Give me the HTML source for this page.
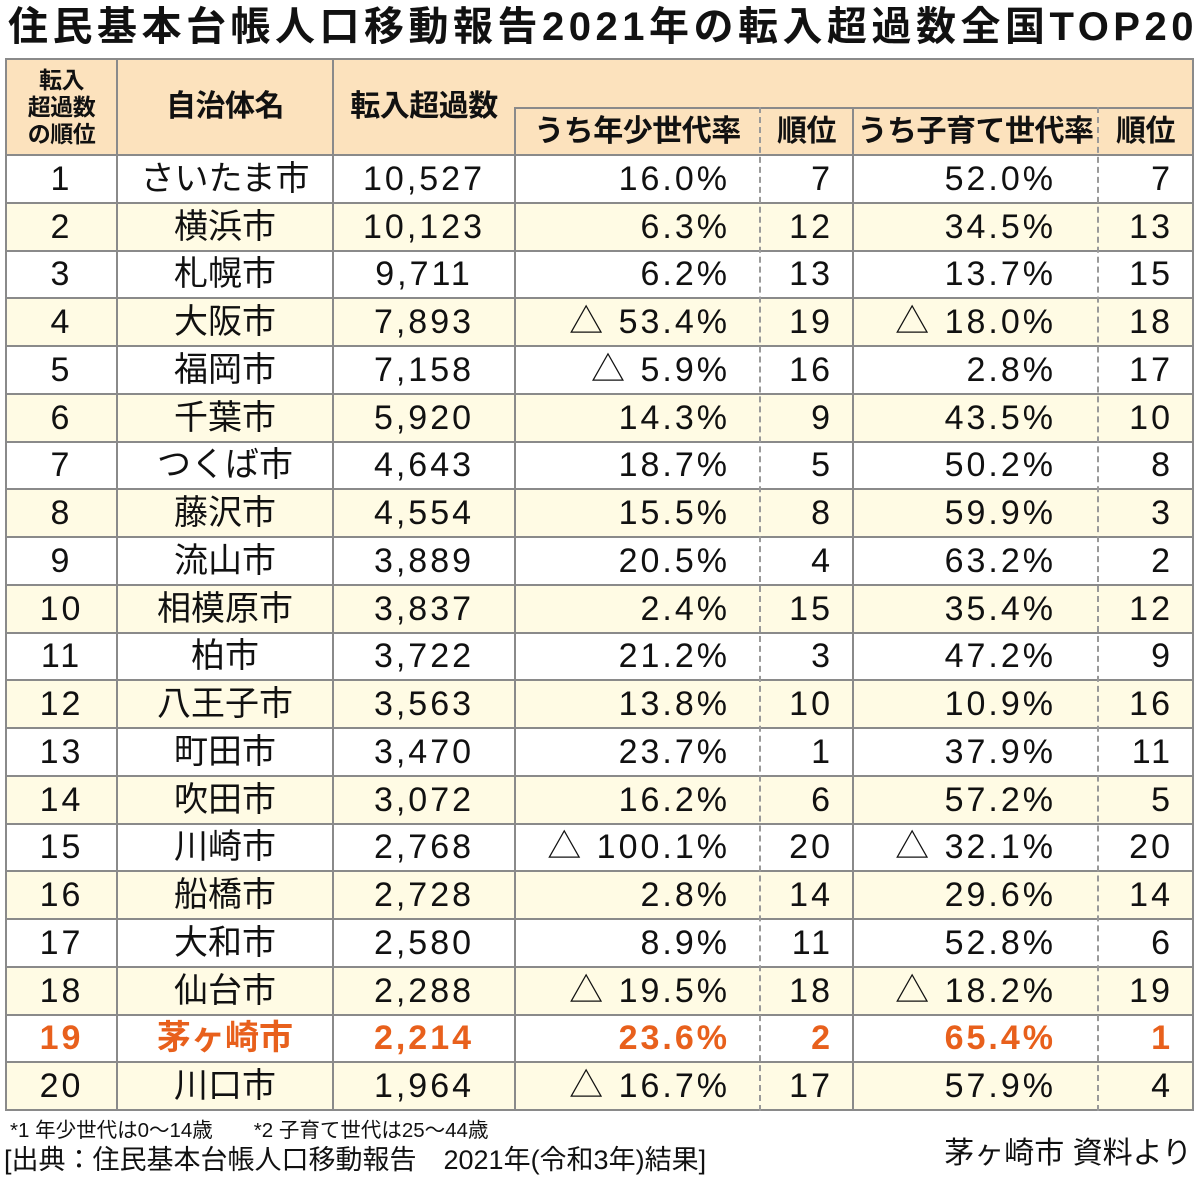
<!DOCTYPE html>
<html><head><meta charset="utf-8"><style>
body{margin:0;width:1200px;height:1172px;background:#fff;position:relative;overflow:hidden;font-family:"Liberation Sans","Noto Sans CJK JP",sans-serif;color:#111}
.a{position:absolute;white-space:nowrap}
.t{left:8px;top:2px;font-size:40px;font-weight:bold;letter-spacing:4.5px;line-height:50px}
.h{background:#fce2bd}
.c{position:absolute;display:flex;align-items:center;font-size:34px;line-height:1;letter-spacing:3px;white-space:nowrap}
.nm{letter-spacing:0}
.hb{font-weight:bold;justify-content:center;font-size:30px;letter-spacing:-0.5px}
.vl{position:absolute;width:0;border-left:2px solid #8a8a8a}
.dl{position:absolute;width:0;border-left:2px dashed #999}
.hl{position:absolute;height:0;border-top:2px solid #8a8a8a}
.or{color:#e8601c;font-weight:bold}
</style></head><body>
<div class="a t">住民基本台帳人口移動報告2021年の転入超過数全国TOP20</div>
<div id="tb"></div>
<div class="a" style="left:10px;top:1113px;font-size:20.5px">*1 年少世代は0～14歳　　*2 子育て世代は25～44歳</div>
<div class="a" style="left:4px;top:1138px;font-size:27px">[出典：住民基本台帳人口移動報告　2021年(令和3年)結果]</div>
<div class="a" style="right:8px;top:1128px;font-size:30px">茅ヶ崎市 資料より</div>
<script>
var rows=[["1","さいたま市","10,527","16.0%","7","52.0%","7"],["2","横浜市","10,123","6.3%","12","34.5%","13"],["3","札幌市","9,711","6.2%","13","13.7%","15"],["4","大阪市","7,893","△ 53.4%","19","△ 18.0%","18"],["5","福岡市","7,158","△ 5.9%","16","2.8%","17"],["6","千葉市","5,920","14.3%","9","43.5%","10"],["7","つくば市","4,643","18.7%","5","50.2%","8"],["8","藤沢市","4,554","15.5%","8","59.9%","3"],["9","流山市","3,889","20.5%","4","63.2%","2"],["10","相模原市","3,837","2.4%","15","35.4%","12"],["11","柏市","3,722","21.2%","3","47.2%","9"],["12","八王子市","3,563","13.8%","10","10.9%","16"],["13","町田市","3,470","23.7%","1","37.9%","11"],["14","吹田市","3,072","16.2%","6","57.2%","5"],["15","川崎市","2,768","△ 100.1%","20","△ 32.1%","20"],["16","船橋市","2,728","2.8%","14","29.6%","14"],["17","大和市","2,580","8.9%","11","52.8%","6"],["18","仙台市","2,288","△ 19.5%","18","△ 18.2%","19"],["19","茅ヶ崎市","2,214","23.6%","2","65.4%","1"],["20","川口市","1,964","△ 16.7%","17","57.9%","4"]];
var H=155,R=47.75,h='';
h+='<div class="a h" style="left:6px;top:59px;width:1187px;height:96px"></div>';
for(var i=0;i<20;i++){var y=H+i*R;h+='<div class="a" style="left:6px;top:'+y+'px;width:1187px;height:'+R+'px;background:'+(i%2?'#fffbe4':'#fff')+'"></div>';}
function cell(x1,x2,y1,y2,txt,cls,al,pr){h+='<div class="c '+(cls||'')+'" style="left:'+x1+'px;width:'+(x2-x1-(pr||0))+'px;top:'+y1+'px;height:'+(y2-y1)+'px;justify-content:'+(al||'center')+'">'+txt+'</div>';}
h+='<div class="c hb" style="left:6px;width:111px;top:59px;height:96px;font-size:23px;line-height:27px;text-align:center">転入<br>超過数<br>の順位</div>';
cell(117,333,59,155,'自治体名','hb');cell(333,515,59,155,'転入超過数','hb');
cell(515,760,108,155,'うち年少世代率','hb');cell(760,853,108,155,'順位','hb');cell(853,1098,108,155,'うち子育て世代率','hb');cell(1098,1193,108,155,'順位','hb');
for(var i=0;i<20;i++){var y=H+i*R,r=rows[i],o=i==18?'or':'';
cell(6,117,y,y+R,r[0],o);cell(117,333,y,y+R,r[1],o+' nm');cell(333,515,y,y+R,r[2],o);
cell(515,760,y,y+R,r[3],o,'flex-end',30);cell(760,853,y,y+R,r[4],o,'flex-end',20);
cell(853,1098,y,y+R,r[5],o,'flex-end',42);cell(1098,1193,y,y+R,r[6],o,'flex-end',20);}
h+='<div class="hl" style="left:6px;top:58px;width:1187px"></div>';
h+='<div class="hl" style="left:515px;top:107px;width:678px"></div>';
for(var i=0;i<=20;i++){h+='<div class="hl" style="left:6px;top:'+(H+i*R-1)+'px;width:1187px"></div>';}
[6,117,333,1193].forEach(function(x){h+='<div class="vl" style="left:'+(x-1)+'px;top:58px;height:1053px"></div>';});
[515,853].forEach(function(x){h+='<div class="vl" style="left:'+(x-1)+'px;top:107px;height:1004px"></div>';});
[760,1098].forEach(function(x){h+='<div class="dl" style="left:'+(x-1)+'px;top:107px;height:1004px"></div>';});
document.getElementById('tb').innerHTML=h;
</script>
</body></html>
